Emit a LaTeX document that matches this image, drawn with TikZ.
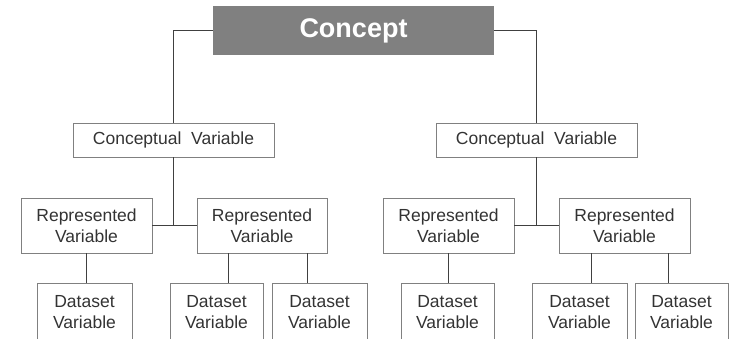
\documentclass[tikz,border=0pt]{standalone}
\usepackage{fontspec}
\setmainfont{Liberation Sans}

\begin{document}
\begin{tikzpicture}[x=1pt, y=-1pt,
                  caja/.style={draw=black!50, line width=0.9pt, text=black!80,
                  font=\fontsize{17.5}{21}\selectfont, align=center, inner sep=0pt},
                  linea/.style={draw=black!75, line width=0.9pt}]

                  \useasboundingbox (0,0) rectangle (729,338);
                  \clip (0,0) rectangle (729,338);

                  % Asignamos el concepto y las variables conceptuales.
                  \node[fill=black!50, text=white, minimum width=281pt,
                  minimum height=49pt, inner sep=0pt,
                  font=\fontsize{27}{30}\selectfont\bfseries] (concepto) at (353.5,30.5) {Concept};
                  \node[caja, minimum width=201pt, minimum height=34pt] (cv1) at (173.5,140) {Conceptual~~Variable};
                  \node[caja, minimum width=201pt, minimum height=34pt] (cv2) at (536.5,140) {Conceptual~~Variable};

                  % Variables representadas.
                  \node[caja, minimum width=131pt, minimum height=55pt] (rv1) at (86.5,225.5) {Represented\\Variable};
                  \node[caja, minimum width=130pt, minimum height=55pt] (rv2) at (262,225.5) {Represented\\Variable};
                  \node[caja, minimum width=131pt, minimum height=55pt] (rv3) at (448.5,225.5) {Represented\\Variable};
                  \node[caja, minimum width=131pt, minimum height=55pt] (rv4) at (624.5,225.5) {Represented\\Variable};

                  % Variables de los datos.
                  \node[caja, minimum width=95pt, minimum height=58pt] (dv1) at (84.5,312) {Dataset\\Variable};
                  \node[caja, minimum width=93pt, minimum height=58pt] (dv2) at (216.5,312) {Dataset\\Variable};
                  \node[caja, minimum width=95pt, minimum height=58pt] (dv3) at (319.5,312) {Dataset\\Variable};
                  \node[caja, minimum width=93pt, minimum height=58pt] (dv4) at (447.5,312) {Dataset\\Variable};
                  \node[caja, minimum width=95pt, minimum height=58pt] (dv5) at (579.5,312) {Dataset\\Variable};
                  \node[caja, minimum width=93pt, minimum height=58pt] (dv6) at (681.5,312) {Dataset\\Variable};

                  % Puntos de salida de las lineas.
                  \coordinate (s2) at ([xshift=-34pt]rv2.south);
                  \coordinate (s3) at ([xshift=45pt]rv2.south);
                  \coordinate (s5) at ([xshift=-33.5pt]rv4.south);
                  \coordinate (s6) at ([xshift=43.5pt]rv4.south);

                  % Dibujamos las lineas.
                  \draw[linea] (concepto.west) -| (cv1.north);
                  \draw[linea] (concepto.east) -| (cv2.north);
                  \draw[linea] (cv1.south) -- (cv1.south |- rv1.east);
                  \draw[linea] (rv1.east) -- (rv2.west);
                  \draw[linea] (cv2.south) -- (cv2.south |- rv3.east);
                  \draw[linea] (rv3.east) -- (rv4.west);
                  \draw[linea] (rv1.south) -- (rv1.south |- dv1.north);
                  \draw[linea] (s2) -- (s2 |- dv2.north);
                  \draw[linea] (s3) -- (s3 |- dv3.north);
                  \draw[linea] (rv3.south) -- (rv3.south |- dv4.north);
                  \draw[linea] (s5) -- (s5 |- dv5.north);
                  \draw[linea] (s6) -- (s6 |- dv6.north);

                \end{tikzpicture}
\end{document}
